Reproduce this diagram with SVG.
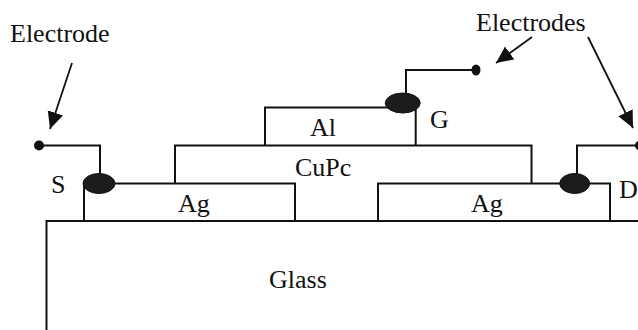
<svg xmlns="http://www.w3.org/2000/svg" width="638" height="330" viewBox="0 0 638 330">
<style>
text{font-family:"Liberation Serif","Times New Roman",serif;font-size:26px;fill:#111}
.l{fill:none;stroke:#111;stroke-width:2}
.a{fill:none;stroke:#111;stroke-width:1.8;marker-end:url(#ah)}
.e{fill:#1c1c1c;stroke:#111;stroke-width:1}
.d{fill:#111}
</style>
<defs><marker id="ah" markerUnits="userSpaceOnUse" markerWidth="20" markerHeight="18" refX="17" refY="8" orient="auto"><path d="M0 0L17 8L0 16Z" fill="#111"/></marker></defs>
<rect width="638" height="330" fill="#fff"/>
<g id="glass"><path class="l" d="M46.500 330V221H638"/><text x="269" y="288">Glass</text></g>
<g id="ag-source"><rect class="l" x="84" y="183.500" width="211" height="37.500"/><text x="178" y="212">Ag</text></g>
<g id="ag-drain"><rect class="l" x="378" y="183.500" width="232" height="37.500"/><text x="471" y="212">Ag</text></g>
<g id="cupc"><path class="l" d="M175 183.500V145.500H531.500V183.500"/><text x="295" y="176">CuPc</text></g>
<g id="al"><path class="l" d="M265 145.500V107.500H415.700V145.500"/><text x="310" y="136">Al</text></g>
<g id="connectors">
<path class="l" d="M39 145.500H100V175"/>
<path class="l" d="M406 93V70H476"/>
<path class="l" d="M577 175V145.500H638"/>
<path class="a" d="M72 63L50 129"/>
<path class="a" d="M532 37L496 63"/>
<path class="a" d="M588 37L633 128"/>
</g>
<g id="electrode-s"><circle class="d" cx="39" cy="145.500" r="5"/><ellipse class="e" cx="99" cy="183.500" rx="16" ry="10"/><text x="51" y="193">S</text></g>
<g id="electrode-g"><ellipse class="d" cx="476" cy="70" rx="4.500" ry="5.500"/><ellipse class="e" cx="402.700" cy="103" rx="17.500" ry="10"/><text x="430" y="128">G</text></g>
<g id="electrode-d"><circle class="d" cx="640" cy="145.500" r="5"/><ellipse class="e" cx="574.700" cy="183.500" rx="15" ry="10"/><text x="619" y="198">D</text></g>
<g id="labels"><text x="10" y="42">Electrode</text><text x="476" y="31">Electrodes</text></g>
</svg>
